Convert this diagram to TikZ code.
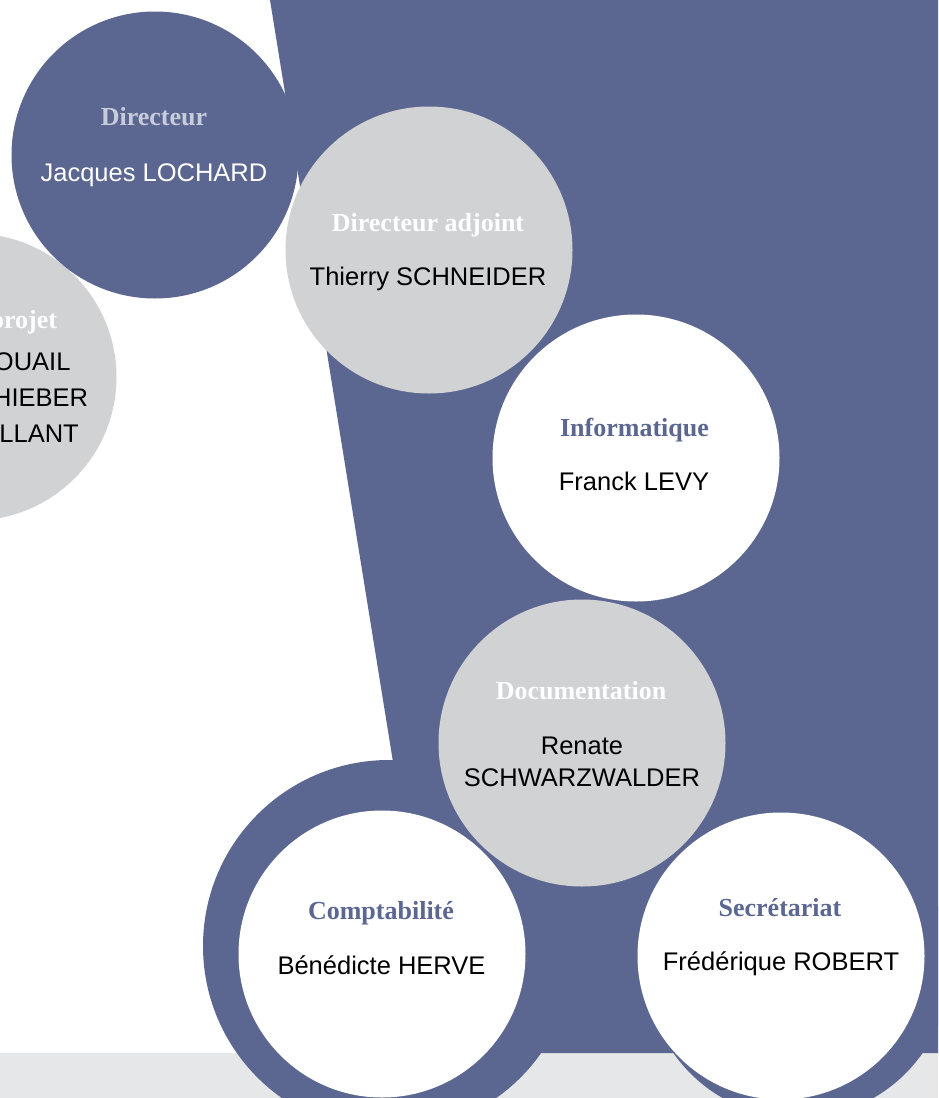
\documentclass[tikz,border=0pt]{standalone}
\usepackage{fontspec}
\setmainfont{Liberation Serif}
\setsansfont{Liberation Sans}
\usetikzlibrary{positioning}
\definecolor{cepnblue}{RGB}{91,103,145}
\definecolor{cepngrey}{RGB}{209,210,212}
\definecolor{cepnband}{RGB}{230,231,232}
\definecolor{cepnlilac}{RGB}{200,203,219}

\begin{document}
\begin{tikzpicture}[x=1pt,y=-1pt,
        disc/.style={circle, minimum size=287pt, inner sep=0pt, draw=none},
        head/.style={anchor=base, inner sep=0pt, font=\fontsize{26}{31}\selectfont\bfseries},
        who/.style={anchor=base, inner sep=0pt, font=\fontsize{25.5}{31}\selectfont\sffamily}]
        \useasboundingbox (0,0) rectangle (938,1098);
        \clip (0,0) rectangle (938,1098);
        % band and panel
        \fill[cepnband] (0,1053) rectangle (938,1098);
        \fill[cepnblue] (270,0) -- (938,0) -- (938,1053) -- (440,1053) -- cycle;
        \fill[cepnblue] (389,946) circle[radius=186];
        \fill[cepnblue] (798,966) circle[radius=152];
        % discs
        \node[disc, fill=cepngrey] (proj) at (-27,377) {};
        \node[disc, fill=cepnblue] (dir) at (155,155) {};
        \node[disc, fill=cepngrey] (adj) at (429,250) {};
        \node[disc, fill=white] (info) at (636,458) {};
        \node[disc, fill=cepngrey] (doc) at (582,743) {};
        \node[disc, fill=white] (compta) at (382,954) {};
        \node[disc, fill=white] (secr) at (781,956) {};
        % texts
        \node[head, text=white] (projhead) at (-28,328.5) {Chefs de projet};
        \node[who] (projname1) at (-28,370.5) {Pascal CROUAIL};
        \node[who] (projname2) at (-28,406.5) {Caroline SCHIEBER};
        \node[who] (projname3) at (-28,442.5) {Ludovic VAILLANT};
        \node[head, text=cepnlilac] (dirhead) at (154,125.5) {Directeur};
        \node[who, text=white] (dirname) at (154,181) {Jacques LOCHARD};
        \node[head, text=white] (adjhead) at (428,231.5) {Directeur adjoint};
        \node[who] (adjname) at (428,285.5) {Thierry SCHNEIDER};
        \node[head, text=cepnblue] (infohead) at (634.5,436) {Informatique};
        \node[who] (infoname) at (634,490) {Franck LEVY};
        \node[head, text=white] (dochead) at (581,699) {Documentation};
        \node[who] (docname1) at (582,754) {Renate};
        \node[who] (docname2) at (582,786) {SCHWARZWALDER};
        \node[head, text=cepnblue] (comptahead) at (381,919) {Comptabilité};
        \node[who] (comptaname) at (381.5,974) {Bénédicte HERVE};
        \node[head, text=cepnblue] (secrhead) at (780,916.5) {Secrétariat};
        \node[who] (secrname) at (781,970.5) {Frédérique ROBERT};
\end{tikzpicture}
\end{document}
